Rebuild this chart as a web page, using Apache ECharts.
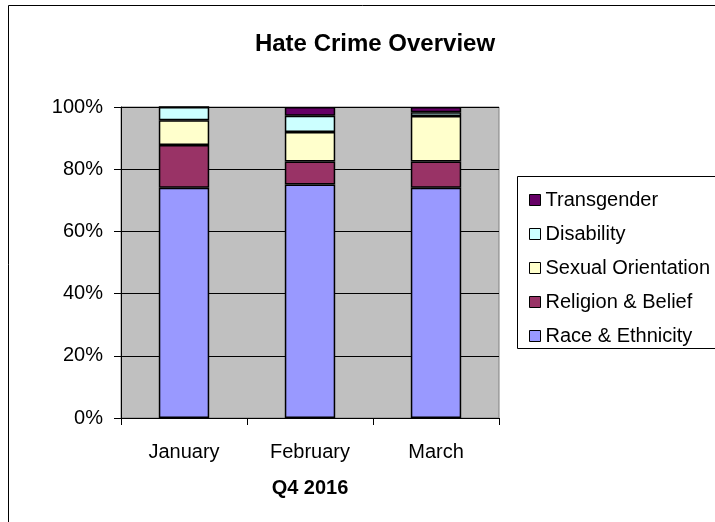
<!DOCTYPE html>
<html>
<head>
<meta charset="utf-8">
<script src="https://cdn.jsdelivr.net/npm/echarts@6/dist/echarts.min.js"></script>
<style>
html, body { margin: 0; padding: 0; background: #fff; }
#chart { width: 715px; height: 522px; }
</style>
</head>
<body>
<div id="chart"></div>
<script>
// months in the quarter
var months = ['January', 'February', 'March'];
// share of each strand per month, in percent
var race = [74.0, 75.1, 74.0];
var religion = [13.8, 7.4, 8.5];
var sexual = [7.9, 9.5, 14.6];
var disability = [4.3, 5.2, 1.2];
var transgender = [0, 2.8, 1.7];
var yTicks = [0, 20, 40, 60, 80, 100];

var font = 'Liberation Sans, Arial, sans-serif';

function barSeries(name, data, color) {
	return {
		name: name,
		type: 'bar',
		stack: 'all',
		barWidth: '40%',
		data: data,
		itemStyle: {
			color: color,
			borderColor: '#000',
			borderWidth: 1.5
		}
	};
}

var chart = echarts.init(document.getElementById('chart'));
chart.setOption({
	animation: false,
	backgroundColor: '#fff',
	title: {
		text: 'Hate Crime Overview',
		left: 370,
		textAlign: 'center',
		top: 27,
		textStyle: { fontFamily: font, fontSize: 24, fontWeight: 'bold', color: '#000' }
	},
	graphic: [
		{ type: 'rect', shape: { x: 8.5, y: 5.5, width: 720, height: 530 }, style: { fill: 'none', stroke: '#000', lineWidth: 1 }, z: 100 },
		{ type: 'rect', shape: { x: 517.5, y: 176.5, width: 220, height: 172 }, style: { fill: '#fff', stroke: '#000', lineWidth: 1 }, z: 1 }
	],
	legend: {
		orient: 'vertical',
		left: 524,
		top: 185,
		itemWidth: 11,
		itemHeight: 11,
		itemGap: 14,
		icon: 'rect',
		data: ['Transgender', 'Disability', 'Sexual Orientation', 'Religion & Belief', 'Race & Ethnicity'],
		itemStyle: { borderColor: '#000', borderWidth: 1 },
		textStyle: { fontFamily: font, fontSize: 20, color: '#000', lineHeight: 20, padding: [0, 0, 0, 0] },
		z: 5
	},
	grid: {
		left: 121,
		right: 216,
		top: 107,
		bottom: 104,
		show: true,
		backgroundColor: '#c0c0c0',
		borderColor: '#808080',
		borderWidth: 1
	},
	xAxis: {
		type: 'category',
		data: months,
		name: 'Q4 2016',
		nameLocation: 'middle',
		nameGap: 60,
		nameTextStyle: { fontFamily: font, fontSize: 20, fontWeight: 'bold', color: '#000' },
		axisLine: { lineStyle: { color: '#000', width: 1 } },
		axisTick: { show: true, length: 7, lineStyle: { color: '#000' } },
		axisLabel: { fontFamily: font, fontSize: 20, color: '#000', margin: 24 }
	},
	yAxis: {
		type: 'value',
		min: yTicks[0],
		max: yTicks[yTicks.length - 1],
		interval: 20,
		axisLine: { show: true, lineStyle: { color: '#000', width: 1 } },
		axisTick: { show: true, length: 7, lineStyle: { color: '#000' } },
		axisLabel: { fontFamily: font, fontSize: 20, color: '#000', margin: 18, formatter: '{value}%' },
		splitLine: { show: true, lineStyle: { color: '#000', width: 1 } }
	},
	series: [
		barSeries('Race & Ethnicity', race, '#9999ff'),
		barSeries('Religion & Belief', religion, '#993366'),
		barSeries('Sexual Orientation', sexual, '#ffffcc'),
		barSeries('Disability', disability, '#ccffff'),
		barSeries('Transgender', transgender, '#660066')
	]
});
</script>
</body>
</html>
